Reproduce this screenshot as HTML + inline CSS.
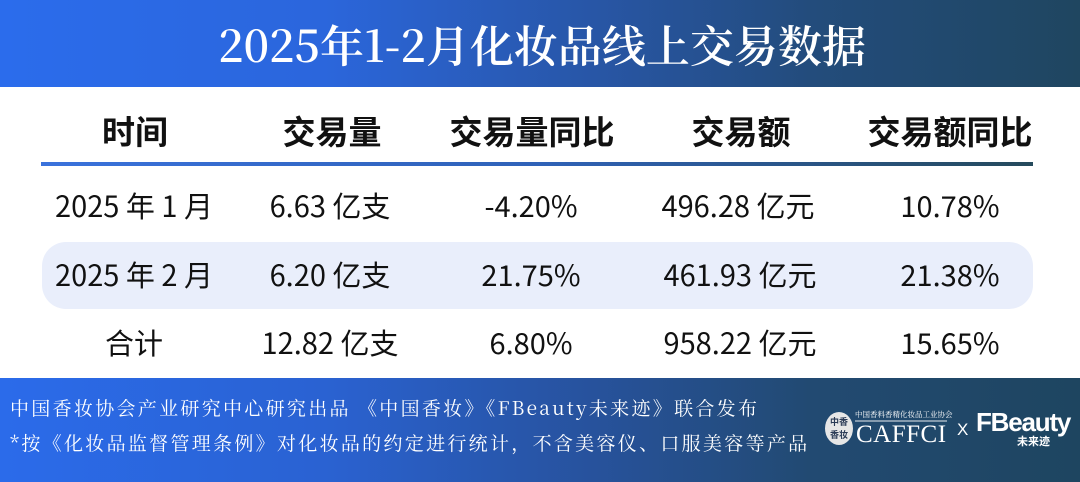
<!DOCTYPE html>
<html><head><meta charset="utf-8">
<style>
*{margin:0;padding:0;box-sizing:border-box}
body{width:1080px;height:482px;overflow:hidden;background:#fff;position:relative;font-family:"Liberation Sans","Noto Sans CJK SC",sans-serif}
.hdr{position:absolute;left:0;top:0;width:1080px;height:87px;background:linear-gradient(90deg,#2b6cec 0%,#2b66dc 30%,#2856a6 55%,#234c7c 75%,#1f4660 100%)}
.title{position:absolute;left:0;top:0;width:1084px;height:87px;line-height:87px;text-align:center;color:#fff;font-family:"Noto Serif CJK SC","Liberation Serif",serif;font-size:44px;font-weight:600;letter-spacing:0px}
.line{position:absolute;left:41px;top:162px;width:992px;height:4px;background:linear-gradient(90deg,#3a72dc 0%,#2f62b8 50%,#254a5c 100%)}
.band{position:absolute;left:42px;top:242px;width:991px;height:67px;border-radius:24px;background:#e9eefb}
.c{position:absolute;width:240px;text-align:center;color:#111;white-space:nowrap}
.h{font-family:"Noto Sans CJK SC",sans-serif;font-weight:700;font-size:33px;line-height:40px;top:110px}
.d{font-family:"Noto Sans CJK SC",sans-serif;font-weight:400;font-size:29px;line-height:36px}
.ftr{position:absolute;left:0;top:378px;width:1080px;height:104px;background:linear-gradient(90deg,#2b6bea 0%,#2a62d2 30%,#27529c 55%,#224a72 75%,#1e4560 100%)}
.ft{position:absolute;left:10px;color:#fff;font-family:"Noto Serif CJK SC","Liberation Serif",serif;font-size:19px;letter-spacing:2.3px;white-space:nowrap;line-height:24px}
</style></head><body>
<div class="hdr"></div>
<div class="title">2025年1-2月化妆品线上交易数据</div>

<div class="c h" style="left:15px">时间</div>
<div class="c h" style="left:212px">交易量</div>
<div class="c h" style="left:412px">交易量同比</div>
<div class="c h" style="left:621px">交易额</div>
<div class="c h" style="left:830px">交易额同比</div>

<div class="line"></div>
<div class="band"></div>

<div class="c d" style="left:14px;top:187px">2025 年 1 月</div>
<div class="c d" style="left:210px;top:187px">6.63 亿支</div>
<div class="c d" style="left:411px;top:187px">-4.20%</div>
<div class="c d" style="left:618px;top:187px">496.28 亿元</div>
<div class="c d" style="left:830px;top:187px">10.78%</div>

<div class="c d" style="left:14px;top:256px">2025 年 2 月</div>
<div class="c d" style="left:210px;top:256px">6.20 亿支</div>
<div class="c d" style="left:411px;top:256px">21.75%</div>
<div class="c d" style="left:620px;top:256px">461.93 亿元</div>
<div class="c d" style="left:830px;top:256px">21.38%</div>

<div class="c d" style="left:14px;top:324px">合计</div>
<div class="c d" style="left:210px;top:324px">12.82 亿支</div>
<div class="c d" style="left:411px;top:324px">6.80%</div>
<div class="c d" style="left:620px;top:324px">958.22 亿元</div>
<div class="c d" style="left:830px;top:324px">15.65%</div>

<div class="ftr"></div>
<div class="ft" style="top:396px">中国香妆协会产业研究中心研究出品 《中国香妆》《FBeauty未来迹》联合发布</div>
<div class="ft" style="top:431px">*按《化妆品监督管理条例》对化妆品的约定进行统计，不含美容仪、口服美容等产品</div>

<!-- logos -->
<div style="position:absolute;left:825px;top:412px;width:28px;height:33px;border-radius:50%;background:#e6e6e6"></div>
<div style="position:absolute;left:825px;top:415px;width:28px;text-align:center;font-family:'Noto Sans CJK SC',sans-serif;font-size:9px;line-height:13px;color:#2a3a55;font-weight:700">中香<br>香妆</div>
<div style="position:absolute;left:855px;top:410px;font-family:'Noto Serif CJK SC',serif;font-size:7.5px;line-height:9px;color:#fff;white-space:nowrap">中国香料香精化妆品工业协会</div>
<div style="position:absolute;left:855px;top:420px;width:92px;height:2px;background:rgba(255,255,255,0.45)"></div>
<div style="position:absolute;left:856px;top:421px;font-family:'Liberation Serif',serif;font-size:25px;line-height:28px;color:#fff;letter-spacing:0.5px">CAFFCI</div>
<div style="position:absolute;left:957px;top:420px;font-family:'Liberation Sans',sans-serif;font-size:17px;line-height:20px;color:#fff">X</div>
<div style="position:absolute;left:976px;top:407px;font-family:'Liberation Sans',sans-serif;font-weight:700;font-size:26px;line-height:30px;color:#fff;letter-spacing:-1.2px;white-space:nowrap">FBeauty</div>
<div style="position:absolute;left:1017px;top:434px;font-family:'Noto Sans CJK SC',sans-serif;font-weight:700;font-size:11px;line-height:14px;color:#fff">未来迹</div>
</body></html>
